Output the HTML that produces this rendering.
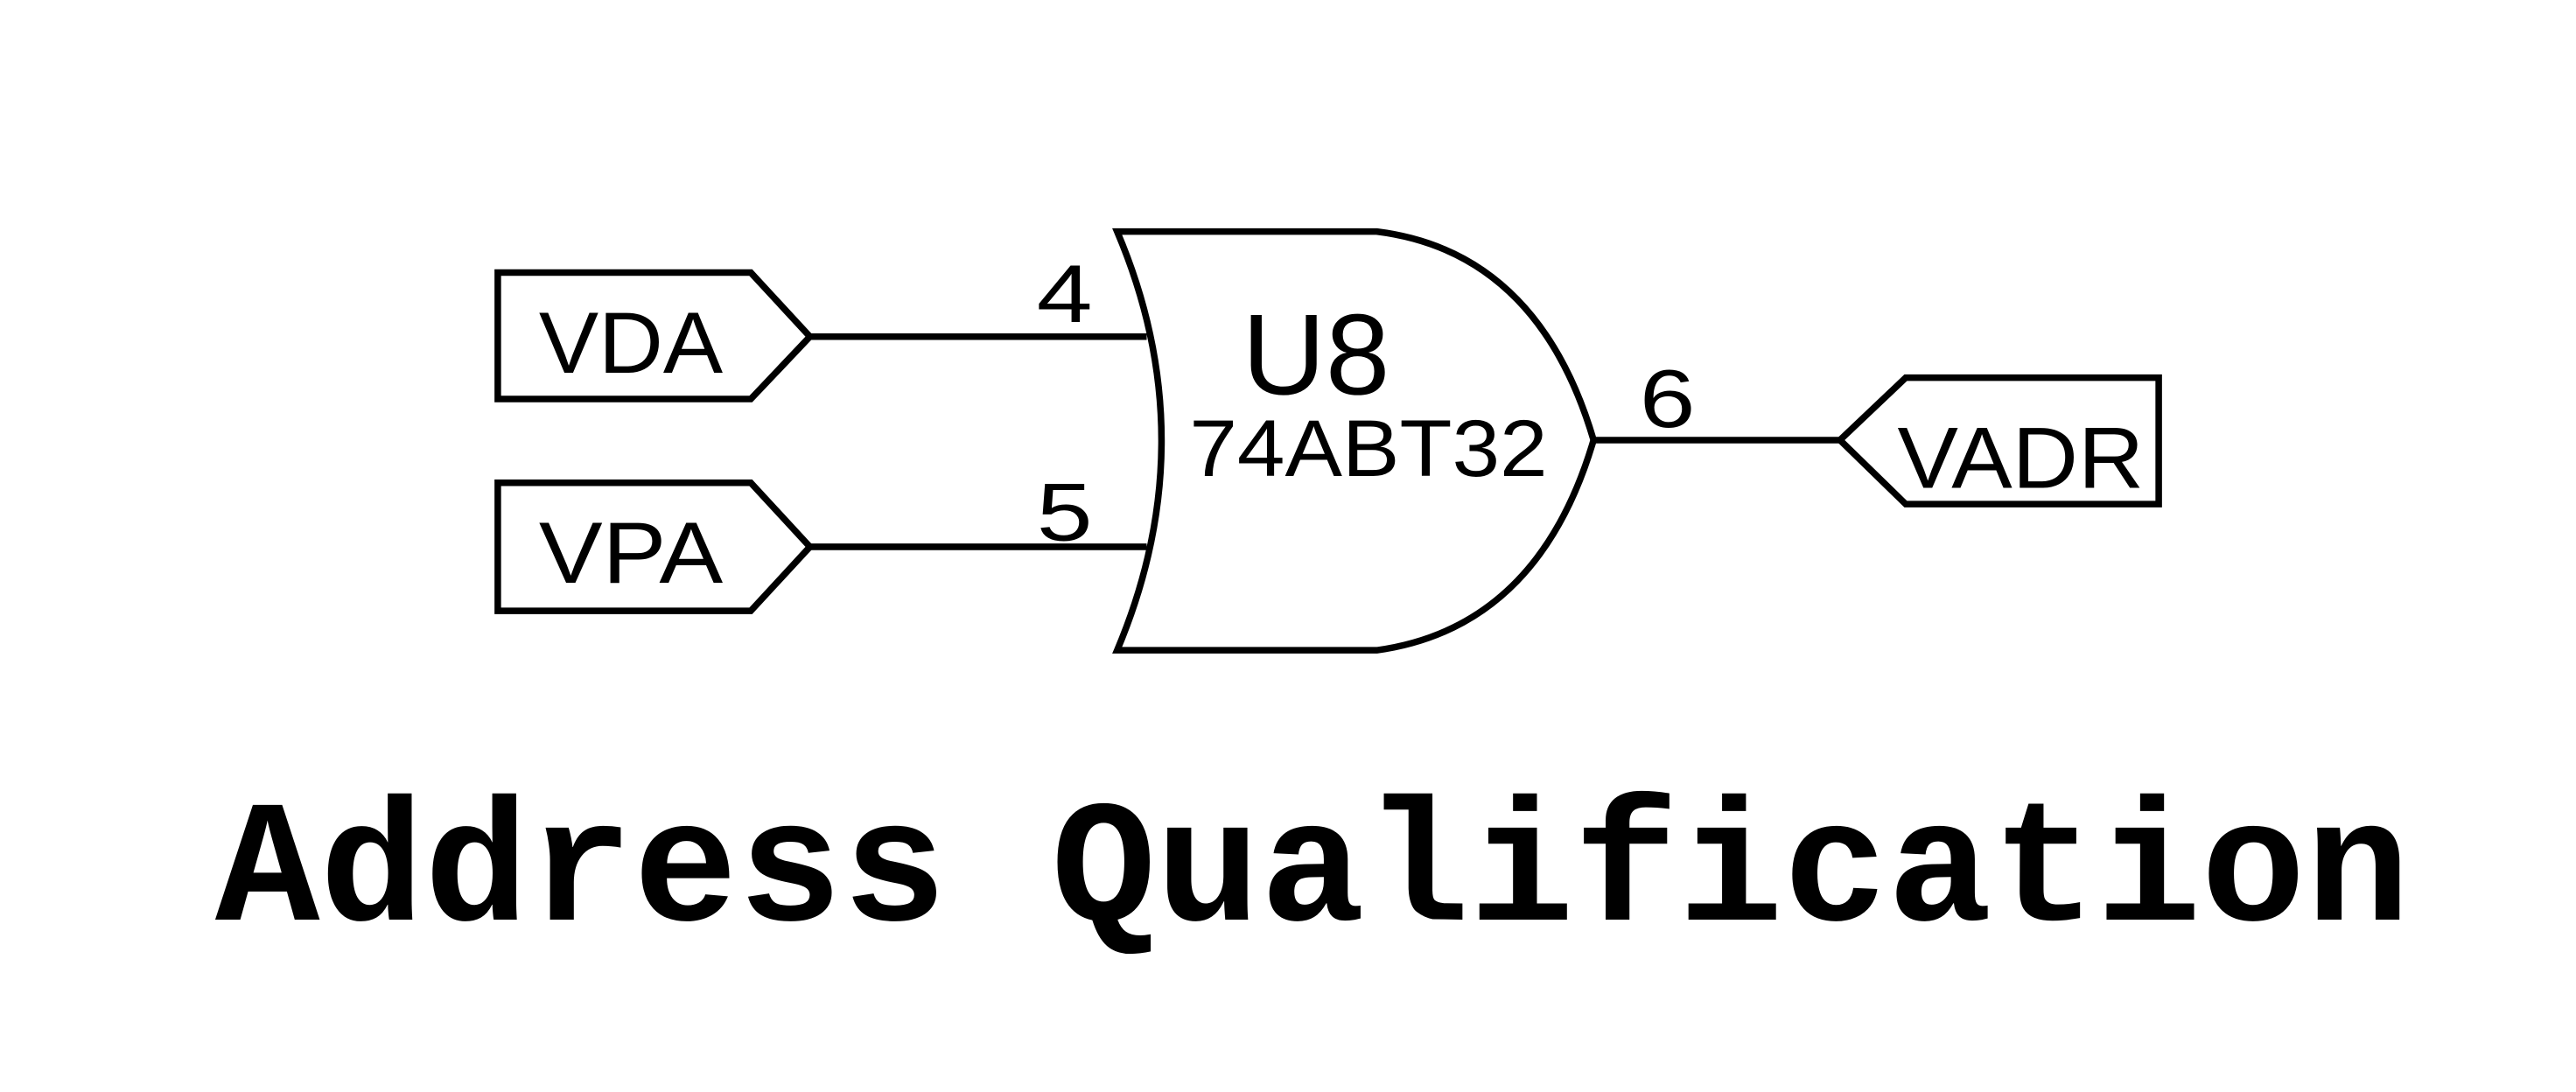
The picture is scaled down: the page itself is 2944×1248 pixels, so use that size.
<!DOCTYPE html>
<html><head><meta charset="utf-8"><style>
html,body{margin:0;padding:0;background:#fff;}
svg{display:block;}
text{fill:#000;}
.s{font-family:"Liberation Sans","DejaVu Sans",sans-serif;}
.m{font-family:"Liberation Mono","DejaVu Sans Mono",monospace;}
</style></head><body>
<svg width="2944" height="1248" viewBox="0 0 1568 665" preserveAspectRatio="none" xmlns="http://www.w3.org/2000/svg">
<rect width="1568" height="665" fill="#fff"/>
<g fill="none" stroke="#000" stroke-width="4" stroke-linejoin="miter">
<polygon points="303,166 457,166 493,205 457,243 303,243"/>
<polygon points="303,294 457,294 493,333 457,372 303,372"/>
<polygon points="1314,230 1160,230 1120,268 1160,307 1314,307"/>
<line x1="493" y1="205" x2="698" y2="205"/>
<line x1="493" y1="333" x2="698" y2="333"/>
<line x1="970" y1="268" x2="1120" y2="268"/>
<path d="M680,141 L838,141 C910,150 950,200 970,268 C950,336 910,386 838,396 L680,396 Q734,268 680,141 Z"/>
</g>
<text class="s" x="631" y="196" font-size="50" textLength="34" lengthAdjust="spacingAndGlyphs">4</text>
<text class="s" x="631" y="329" font-size="50" textLength="34" lengthAdjust="spacingAndGlyphs">5</text>
<text class="s" x="998" y="260" font-size="50" textLength="34" lengthAdjust="spacingAndGlyphs">6</text>
<text class="s" x="756" y="240" font-size="70" textLength="90" lengthAdjust="spacingAndGlyphs">U8</text>
<text class="s" x="724" y="290" font-size="49" textLength="218" lengthAdjust="spacingAndGlyphs">74ABT32</text>
<text class="s" x="328" y="227" font-size="53" textLength="112" lengthAdjust="spacingAndGlyphs">VDA</text>
<text class="s" x="328" y="355" font-size="53" textLength="112" lengthAdjust="spacingAndGlyphs">VPA</text>
<text class="s" x="1155" y="297" font-size="53" textLength="150" lengthAdjust="spacingAndGlyphs">VADR</text>
<text class="m" x="131" y="560" font-size="106" font-weight="bold" textLength="1336" lengthAdjust="spacingAndGlyphs">Address Qualification</text>
</svg>
</body></html>
